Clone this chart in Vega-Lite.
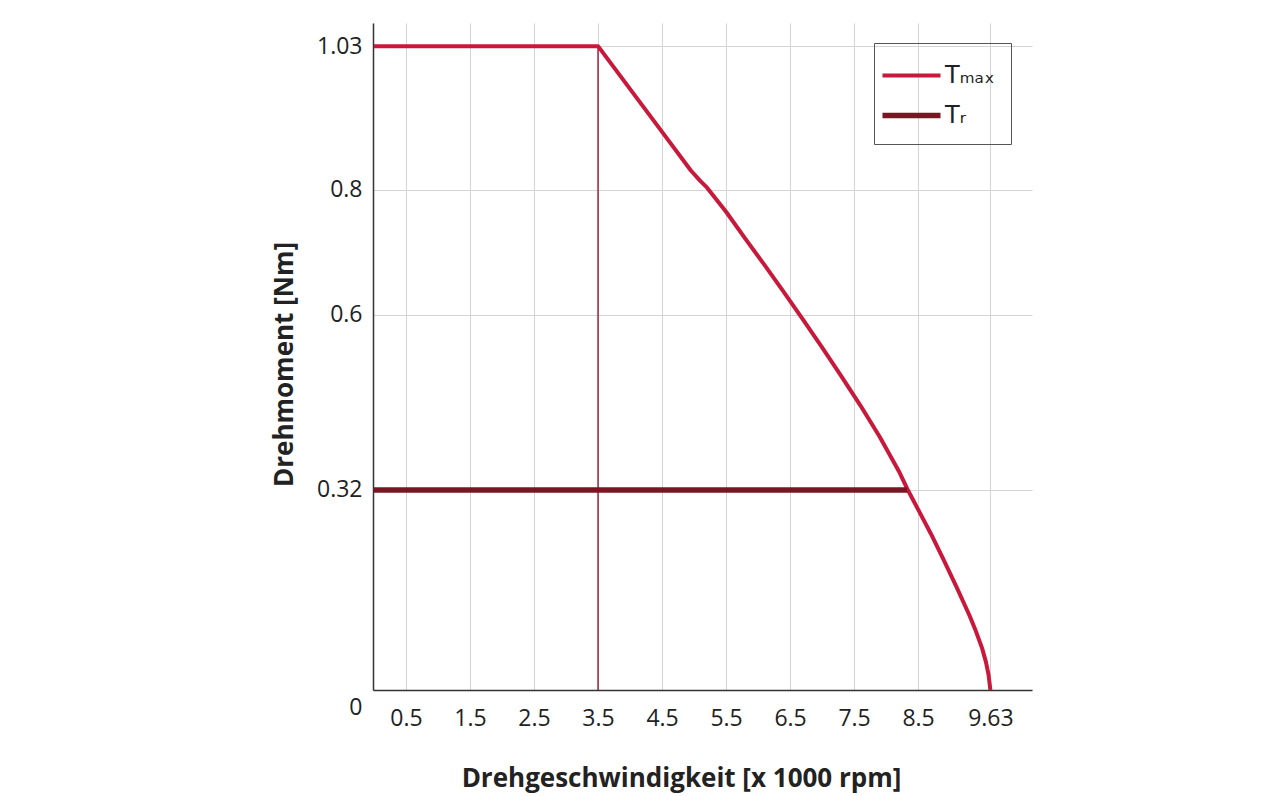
{
  "$schema": "https://vega.github.io/schema/vega-lite/v6.json",
  "width": 659,
  "height": 667,
  "autosize": {"type": "none"},
  "padding": {"left": 373, "top": 23, "right": 248, "bottom": 106},
  "background": "white",
  "config": {
    "view": {"stroke": null},
    "font": "Open Sans",
    "legend": {"strokeWidth": 1}
  },
  "datasets": {
    "curves": [
      {"series": "Tmax", "speed": 0, "torque": 1.03},
      {"series": "Tmax", "speed": 3.5, "torque": 1.03},
      {"series": "Tmax", "speed": 4.55, "torque": 0.886},
      {"series": "Tmax", "speed": 4.95, "torque": 0.831},
      {"series": "Tmax", "speed": 5.1, "torque": 0.814},
      {"series": "Tmax", "speed": 5.2, "torque": 0.804},
      {"series": "Tmax", "speed": 5.5, "torque": 0.765},
      {"series": "Tmax", "speed": 5.8, "torque": 0.722},
      {"series": "Tmax", "speed": 6.1, "torque": 0.68},
      {"series": "Tmax", "speed": 6.4, "torque": 0.637},
      {"series": "Tmax", "speed": 6.7, "torque": 0.593},
      {"series": "Tmax", "speed": 7.0, "torque": 0.548},
      {"series": "Tmax", "speed": 7.3, "torque": 0.502},
      {"series": "Tmax", "speed": 7.6, "torque": 0.455},
      {"series": "Tmax", "speed": 7.9, "torque": 0.405},
      {"series": "Tmax", "speed": 8.2, "torque": 0.35},
      {"series": "Tmax", "speed": 8.33, "torque": 0.322},
      {"series": "Tmax", "speed": 8.5, "torque": 0.289},
      {"series": "Tmax", "speed": 8.7, "torque": 0.25},
      {"series": "Tmax", "speed": 8.9, "torque": 0.208},
      {"series": "Tmax", "speed": 9.1, "torque": 0.165},
      {"series": "Tmax", "speed": 9.3, "torque": 0.12},
      {"series": "Tmax", "speed": 9.4, "torque": 0.095},
      {"series": "Tmax", "speed": 9.5, "torque": 0.067},
      {"series": "Tmax", "speed": 9.56, "torque": 0.045},
      {"series": "Tmax", "speed": 9.6, "torque": 0.025},
      {"series": "Tmax", "speed": 9.63, "torque": 0},
      {"series": "Tr", "speed": 0, "torque": 0.32},
      {"series": "Tr", "speed": 8.33, "torque": 0.32}
    ],
    "marker": [{"speed": 3.5, "torque": 0, "torque2": 1.03}]
  },
  "layer": [
    {
      "data": {"name": "marker"},
      "mark": {"type": "rule", "color": "#A3203F", "strokeWidth": 1.5},
      "encoding": {
        "x": {
          "field": "speed", "type": "quantitative",
          "scale": {"domain": [-0.016, 10.28], "nice": false, "zero": false},
          "axis": {
            "title": "Drehgeschwindigkeit [x 1000 rpm]",
            "values": [0.5, 1.5, 2.5, 3.5, 4.5, 5.5, 6.5, 7.5, 8.5, 9.63],
            "format": ".3~g",
            "ticks": false,
            "labelFontSize": 23,
            "labelColor": "#222222",
            "labelPadding": 17,
            "labelFlush": false,
            "domainColor": "#333333",
            "domainWidth": 1.5,
            "gridColor": "#d4d4d4",
            "gridWidth": 1,
            "titleFontSize": 26,
            "titleFontWeight": "bold",
            "titleColor": "#222222",
            "titleX": 308,
            "titleY": 96,
            "titleAlign": "center",
            "titleBaseline": "alphabetic"
          }
        },
        "y": {
          "field": "torque", "type": "quantitative",
          "scale": {"domain": [0, 1.067], "nice": false, "zero": false},
          "axis": {
            "title": "Drehmoment [Nm]",
            "values": [0, 0.32, 0.6, 0.8, 1.03],
            "format": ".3~g",
            "ticks": false,
            "labelFontSize": 23,
            "labelColor": "#222222",
            "labelPadding": 11,
            "labelOffset": {"condition": {"test": "datum.value == 0", "value": 17}, "value": 0},
            "labelFlush": false,
            "domainColor": "#333333",
            "domainWidth": 1.5,
            "gridColor": "#d4d4d4",
            "gridWidth": 1,
            "titleFontSize": 26,
            "titleFontWeight": "bold",
            "titleColor": "#222222",
            "titleAngle": 270,
            "titleX": -81,
            "titleY": 341,
            "titleAlign": "center",
            "titleBaseline": "alphabetic"
          }
        },
        "y2": {"field": "torque2"}
      }
    },
    {
      "data": {"name": "curves"},
      "mark": {"type": "line", "strokeCap": "butt", "strokeJoin": "round"},
      "encoding": {
        "x": {"field": "speed", "type": "quantitative"},
        "y": {"field": "torque", "type": "quantitative"},
        "color": {
          "field": "series", "type": "nominal",
          "scale": {"domain": ["Tr", "Tmax"], "range": ["#7D1421", "#C8193C"]},
          "legend": {
            "title": null,
            "orient": "none",
            "legendX": 501,
            "legendY": 20,
            "values": ["Tmax", "Tr"],
            "strokeColor": "#555555",
            "padding": 16,
            "symbolType": "M-2,0H2",
            "symbolSize": 841,
            "symbolStrokeWidth": 6,
            "symbolOffset": 4,
            "labelFont": "DejaVu Sans",
            "labelFontSize": 24,
            "labelColor": "#222222",
            "labelOffset": 16,
            "rowPadding": 10,
            "labelExpr": "datum.label == 'Tmax' ? 'Tₘₐₓ' : 'Tᵣ'"
          }
        },
        "strokeWidth": {
          "field": "series", "type": "nominal",
          "scale": {"domain": ["Tr", "Tmax"], "range": [5.5, 4]},
          "legend": null
        }
      }
    }
  ]
}
